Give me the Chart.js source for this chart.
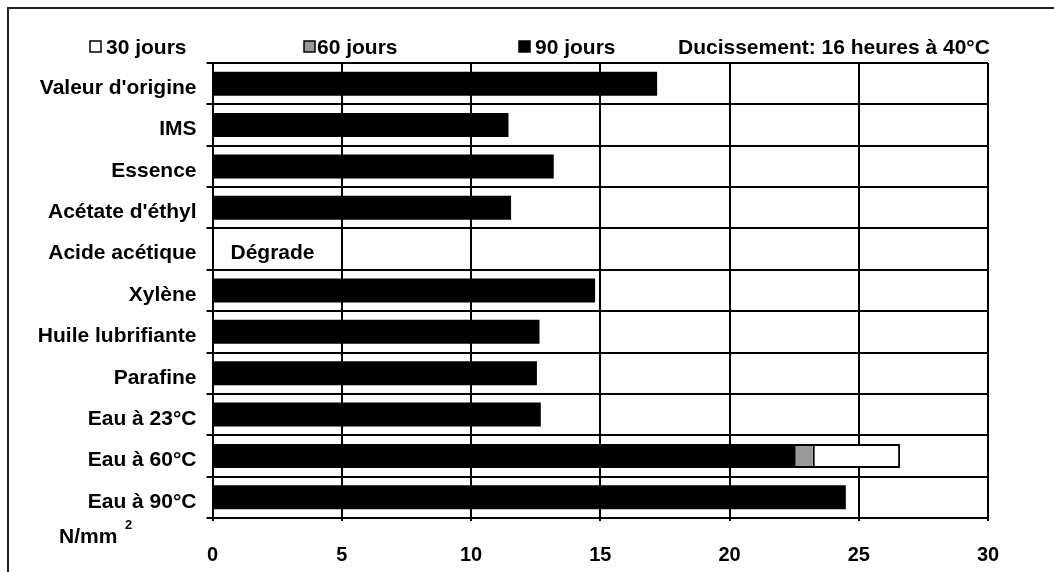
<!DOCTYPE html>
<html>
<head>
<meta charset="utf-8">
<script src="https://cdn.jsdelivr.net/npm/chart.js@4/dist/chart.umd.min.js"></script>
<style>
html,body{margin:0;padding:0;background:#fff;}
#wrap{width:1054px;height:572px;}
</style>
</head>
<body>
<div id="wrap"><canvas id="c" width="1054" height="572"></canvas></div>
<script>
const categories = ["Valeur d'origine","IMS","Essence","Acétate d'éthyl","Acide acétique","Xylène","Huile lubrifiante","Parafine","Eau à 23°C","Eau à 60°C","Eau à 90°C"];
const jours30 = [null,null,null,null,null,null,null,null,null,26.6,null];
const jours60 = [null,null,null,null,null,null,null,null,null,23.3,null];
const jours90 = [17.2,11.45,13.2,11.55,null,14.8,12.65,12.55,12.7,22.55,24.5];
const xTicks = [0,5,10,15,20,25,30];
const legendLabels = ["30 jours","60 jours","90 jours"];
const noteText = "Ducissement: 16 heures à 40°C";
const degradeText = "Dégrade";
const unitText = "N/mm";

const FONT = "'Liberation Sans', Arial, sans-serif";

const overlay = {
  id: 'overlay',
  afterDraw(chart) {
    const ctx = chart.ctx;
    const xs = chart.scales.x, ys = chart.scales.y;
    ctx.save();
    // outer frame
    ctx.strokeStyle = '#222';
    ctx.lineWidth = 2;
    ctx.beginPath();
    ctx.moveTo(8, 580); ctx.lineTo(8, 8); ctx.lineTo(1060, 8);
    ctx.stroke();
    // legend
    ctx.font = "bold 21px " + FONT;
    ctx.fillStyle = '#000';
    ctx.textBaseline = 'alphabetic';
    const boxes = [[90, '#fff'], [304, '#999999'], [519, '#000']];
    const textX = [106, 317, 535];
    for (let i = 0; i < 3; i++) {
      const bx = boxes[i][0];
      ctx.fillStyle = boxes[i][1];
      ctx.fillRect(bx, 41, 11, 11);
      ctx.strokeStyle = '#000';
      ctx.lineWidth = 1.5;
      ctx.strokeRect(bx, 41, 11, 11);
      ctx.fillStyle = '#000';
      ctx.fillText(legendLabels[i], textX[i], 54);
    }
    ctx.fillText(noteText, 678, 54);
    // Degrade label
    const yc = ys.getPixelForValue(4);
    ctx.font = "bold 21px " + FONT;
    ctx.textBaseline = 'middle';
    ctx.fillText(degradeText, xs.getPixelForValue(0) + 18, yc + 4);
    // unit
    ctx.textBaseline = 'alphabetic';
    ctx.font = "bold 21px " + FONT;
    ctx.fillText(unitText, 59, 543);
    ctx.font = "bold 13px " + FONT;
    ctx.fillText("2", 125, 529);
    ctx.restore();
  }
};

new Chart(document.getElementById('c'), {
  type: 'bar',
  data: {
    labels: categories,
    datasets: [
      { label: legendLabels[0], data: jours30, backgroundColor: '#ffffff', borderColor: '#000', borderWidth: 2, borderSkipped: false, order: 3 },
      { label: legendLabels[1], data: jours60, backgroundColor: '#999999', borderColor: '#000', borderWidth: 2, borderSkipped: false, order: 2 },
      { label: legendLabels[2], data: jours90, backgroundColor: '#000000', borderColor: '#000', borderWidth: 0, order: 1 }
    ]
  },
  options: {
    indexAxis: 'y',
    responsive: false,
    animation: false,
    devicePixelRatio: 1,
    datasets: { bar: { grouped: false, categoryPercentage: 1, barPercentage: 0.58 } },
    layout: { padding: { top: 63, right: 66, left: 0, bottom: 0 } },
    plugins: { legend: { display: false }, tooltip: { enabled: false } },
    scales: {
      x: {
        type: 'linear', min: 0, max: 30,
        afterBuildTicks(s) { s.ticks = xTicks.map(v => ({ value: v })); },
        afterFit(s) { s.height = 54; },
        grid: { color: '#000', lineWidth: 2, tickLength: 3, drawTicks: true },
        border: { color: '#000', width: 2 },
        ticks: { color: '#000', font: { family: FONT, size: 20, weight: 'bold' }, padding: 22, maxRotation: 0 }
      },
      y: {
        afterFit(s) { s.width = 212.5; },
        grid: { color: '#000', lineWidth: 2, offset: true, tickLength: 6 },
        border: { color: '#000', width: 2 },
        ticks: { color: '#000', font: { family: FONT, size: 21, weight: 'bold' }, padding: 10, labelOffset: 4.5, autoSkip: false }
      }
    }
  },
  plugins: [overlay]
});
</script>
</body>
</html>
